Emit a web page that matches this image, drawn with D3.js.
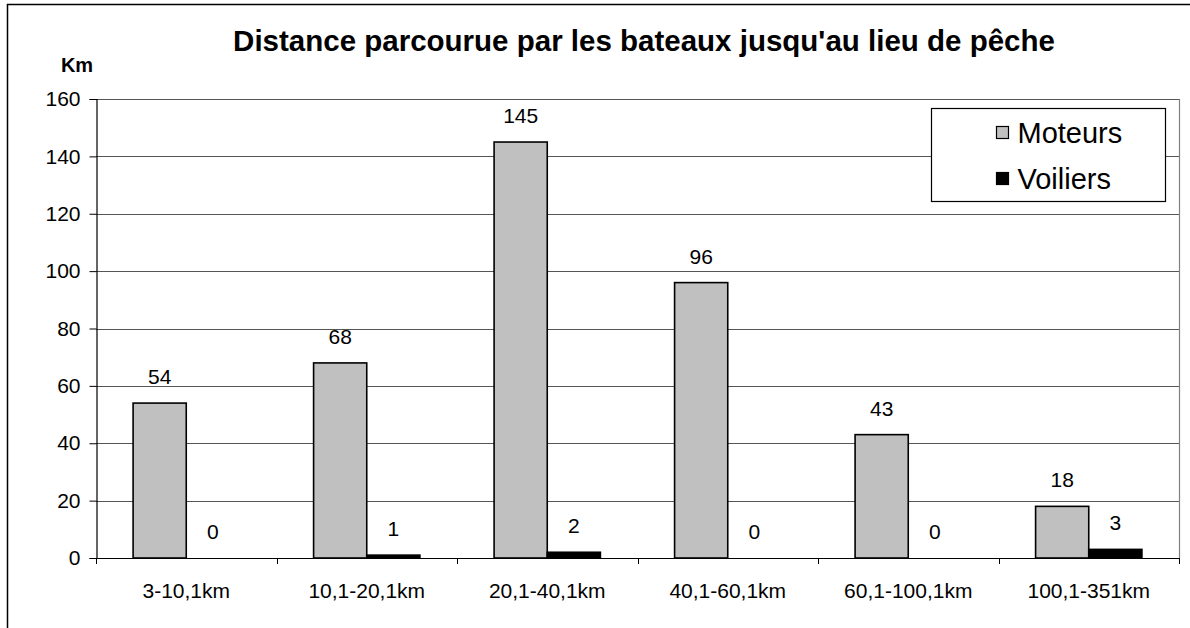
<!DOCTYPE html>
<html>
<head>
<meta charset="utf-8">
<script src="https://cdn.jsdelivr.net/npm/d3@7"></script>
<style>
  body { margin: 0; background: #fff; }
  text { font-family: "Liberation Sans", Arial, sans-serif; }
</style>
</head>
<body>
<div id="chart"></div>
<script>
const categories = ["3-10,1km", "10,1-20,1km", "20,1-40,1km", "40,1-60,1km", "60,1-100,1km", "100,1-351km"];
const seriesNames = ["Moteurs", "Voiliers"];
const moteurs = [54, 68, 145, 96, 43, 18];
const voiliers = [0, 1, 2, 0, 0, 3];
const yTicks = [0, 20, 40, 60, 80, 100, 120, 140, 160];
const seriesColors = ["#c0c0c0", "#000000"];

const W = 1190, H = 628;
const margin = { top: 99, right: 11, bottom: 70, left: 96 };

const svg = d3.select("#chart").append("svg")
  .attr("width", W)
  .attr("height", H);

// outer chart frame
svg.append("rect")
  .attr("x", 7.5).attr("y", 4.5)
  .attr("width", W).attr("height", H)
  .attr("fill", "none")
  .attr("stroke", "#000")
  .attr("stroke-width", 1.5);

const x0 = d3.scaleBand()
  .domain(categories)
  .range([margin.left, W - margin.right])
  .paddingInner(0.411)
  .paddingOuter(0.2055);

const x1 = d3.scaleBand()
  .domain(seriesNames)
  .range([0, x0.bandwidth()]);

const y = d3.scaleLinear()
  .domain([0, 160])
  .range([H - margin.bottom, margin.top]);

const plotLeft = margin.left, plotRight = W - margin.right;

// gridlines
svg.append("g")
  .selectAll("line")
  .data(yTicks.filter(d => d > 0))
  .join("line")
  .attr("x1", plotLeft).attr("x2", plotRight)
  .attr("y1", d => Math.round(y(d)) + 0.5)
  .attr("y2", d => Math.round(y(d)) + 0.5)
  .attr("stroke", "#555")
  .attr("stroke-width", 1.2);

// right plot border
svg.append("line")
  .attr("x1", plotRight + 0.5).attr("x2", plotRight + 0.5)
  .attr("y1", y(160)).attr("y2", y(0))
  .attr("stroke", "#808080")
  .attr("stroke-width", 1.2);

// y axis
const yAxis = d3.axisLeft(y)
  .tickValues(yTicks)
  .tickSize(7)
  .tickPadding(9);

const gy = svg.append("g")
  .attr("transform", `translate(${plotLeft + 0.5},0)`)
  .call(yAxis);
gy.select(".domain").attr("stroke", "#000").attr("stroke-width", 1.2);
gy.selectAll(".tick line").attr("stroke", "#000");
gy.selectAll(".tick text")
  .attr("font-size", 21)
  .attr("fill", "#000");

// x axis line and category boundary ticks
const step = x0.step();
const boundaries = d3.range(categories.length + 1).map(i => plotLeft + i * step);

svg.append("line")
  .attr("x1", plotLeft).attr("x2", plotRight)
  .attr("y1", Math.round(y(0)) + 0.5).attr("y2", Math.round(y(0)) + 0.5)
  .attr("stroke", "#000")
  .attr("stroke-width", 1.2);

svg.append("g")
  .selectAll("line")
  .data(boundaries)
  .join("line")
  .attr("x1", d => Math.round(d) + 0.5).attr("x2", d => Math.round(d) + 0.5)
  .attr("y1", y(0)).attr("y2", y(0) + 6)
  .attr("stroke", "#000");

svg.append("g")
  .selectAll("text")
  .data(categories)
  .join("text")
  .attr("x", d => x0(d) + x0.bandwidth() / 2)
  .attr("y", y(0) + 40)
  .attr("text-anchor", "middle")
  .attr("font-size", 21)
  .text(d => d);

// bars
const rows = categories.map((c, i) => ({
  cat: c,
  values: [
    { key: seriesNames[0], value: moteurs[i], color: seriesColors[0] },
    { key: seriesNames[1], value: voiliers[i], color: seriesColors[1] }
  ]
}));

const groups = svg.append("g")
  .selectAll("g")
  .data(rows)
  .join("g")
  .attr("transform", d => `translate(${x0(d.cat)},0)`);

groups.selectAll("rect")
  .data(d => d.values)
  .join("rect")
  .attr("x", d => x1(d.key))
  .attr("y", d => y(d.value))
  .attr("width", x1.bandwidth())
  .attr("height", d => y(0) - y(d.value))
  .attr("fill", d => d.color)
  .attr("stroke", "#000")
  .attr("stroke-width", d => d.value > 0 ? 1.6 : 0);

// value labels
groups.selectAll("text")
  .data(d => d.values)
  .join("text")
  .attr("x", d => x1(d.key) + x1.bandwidth() / 2)
  .attr("y", d => y(d.value) - 19)
  .attr("text-anchor", "middle")
  .attr("font-size", 21)
  .text(d => d.value);

// titles
svg.append("text")
  .attr("x", 644)
  .attr("y", 51)
  .attr("text-anchor", "middle")
  .attr("font-size", 29.5)
  .attr("font-weight", "bold")
  .text("Distance parcourue par les bateaux jusqu'au lieu de pêche");

svg.append("text")
  .attr("x", 77)
  .attr("y", 72)
  .attr("text-anchor", "middle")
  .attr("font-size", 20)
  .attr("font-weight", "bold")
  .text("Km");

// legend
const legend = svg.append("g").attr("transform", "translate(931.5,108.5)");
legend.append("rect")
  .attr("width", 234).attr("height", 93)
  .attr("fill", "#fff")
  .attr("stroke", "#000")
  .attr("stroke-width", 1.2);

const items = legend.selectAll("g")
  .data(seriesNames)
  .join("g")
  .attr("transform", (d, i) => `translate(65,${24 + i * 46})`);

items.append("rect")
  .attr("x", 0).attr("y", -6)
  .attr("width", 12).attr("height", 12)
  .attr("fill", (d, i) => seriesColors[i])
  .attr("stroke", "#000")
  .attr("stroke-width", 1.2);

items.append("text")
  .attr("x", 21)
  .attr("y", 10)
  .attr("font-size", 29)
  .text(d => d);
</script>
</body>
</html>
